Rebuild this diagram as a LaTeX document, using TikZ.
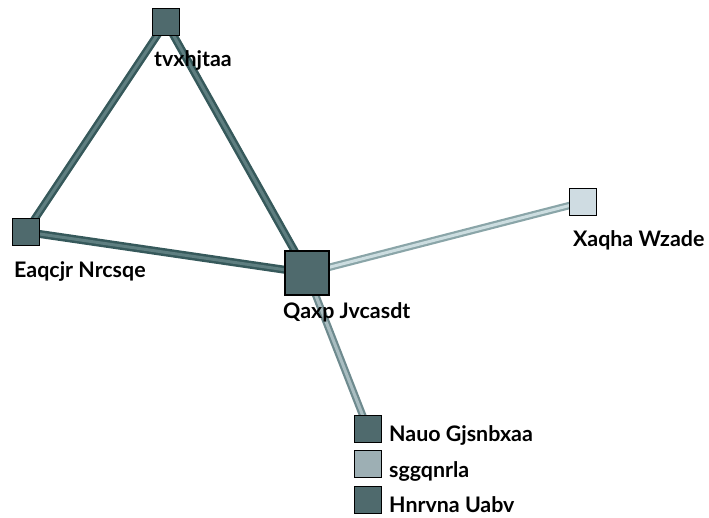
\documentclass[tikz,border=0pt]{standalone}
\usepackage{fontspec}
\setmainfont{Lato}
\usetikzlibrary{backgrounds}
\definecolor{nodedark}{HTML}{4F6A6D}
\definecolor{nodelight}{HTML}{CFDCE2}
\definecolor{nodemid}{HTML}{9DAFB4}
\definecolor{edgedarkout}{HTML}{36595B}
\definecolor{edgedarkin}{HTML}{5E7E80}
\definecolor{edgelightout}{HTML}{8AA5A8}
\definecolor{edgelightin}{HTML}{CCDDE0}
\definecolor{edgemidout}{HTML}{6E8A8E}
\definecolor{edgemidin}{HTML}{A9BDC1}
\tikzset{
  sq/.style={draw=black, line width=1.3pt, minimum size=#1, inner sep=0pt},
  lbl/.style={anchor=base west, inner sep=0pt, font=\fontsize{21.4}{24}\selectfont\bfseries},
  darkedge/.style={draw=edgedarkout, double=edgedarkin, line width=2.5pt, double distance=3pt},
  lightedge/.style={draw=edgelightout, double=edgelightin, line width=2.2pt, double distance=3pt},
  midedge/.style={draw=edgemidout, double=edgemidin, line width=2.2pt, double distance=3pt},
}
\begin{document}
\begin{tikzpicture}[x=1pt,y=-1pt]
\useasboundingbox (0,0) rectangle (709,517);
\node[sq=27pt, fill=nodedark] (t) at (166,22) {};
\node[sq=27pt, fill=nodedark] (e) at (26,232) {};
\node[sq=44pt, fill=nodedark] (q) at (307,273) {};
\node[sq=27pt, fill=nodelight] (x) at (583,202) {};
\node[sq=27pt, fill=nodedark] (n) at (368,429) {};
\node[sq=27pt, fill=nodemid] (s) at (368,464) {};
\node[sq=27pt, fill=nodedark] (h) at (368,500) {};
\begin{scope}[on background layer]
\draw[darkedge] (t.center) -- (e.center);
\draw[darkedge] (t.center) -- (q.center);
\draw[darkedge] (e.center) -- (q.center);
\draw[lightedge] (q.center) -- (x.center);
\draw[midedge] (q.center) -- (n.center);
\end{scope}
\node[lbl] (tl) at (154,66.7) {tvxhjtaa};
\node[lbl] (el) at (14,277.7) {Eaqcjr Nrcsqe};
\node[lbl] (ql) at (283,318.3) {Qaxp Jvcasdt};
\node[lbl] (xl) at (573,246) {Xaqha Wzade};
\node[lbl] (nl) at (389,441.7) {Nauo Gjsnbxaa};
\node[lbl] (sl) at (389,477.7) {sggqnrla};
\node[lbl] (hl) at (389,512.3) {Hnrvna Uabv};
\end{tikzpicture}
\end{document}
